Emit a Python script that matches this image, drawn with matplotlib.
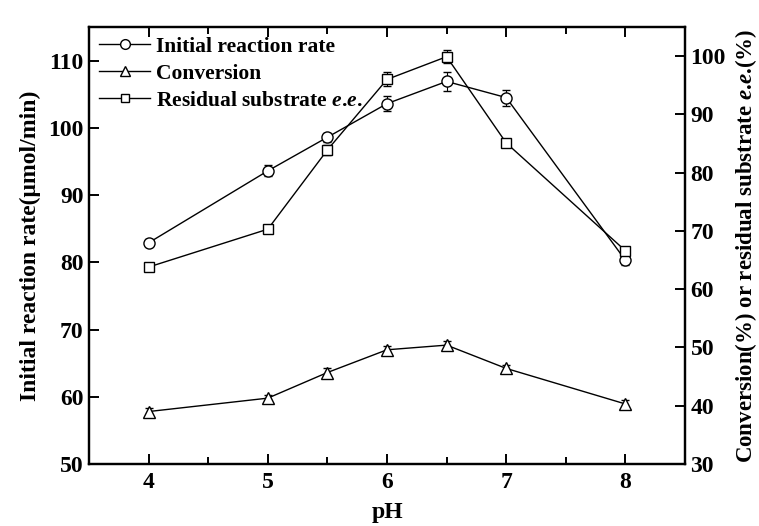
import matplotlib as mpl
mpl.use('Agg')
import matplotlib.pyplot as plt
from matplotlib.lines import Line2D
from matplotlib.ticker import MultipleLocator

plt.rcParams['font.family'] = ['Liberation Serif', 'DejaVu Serif']
plt.rcParams['font.weight'] = 'bold'
plt.rcParams['mathtext.fontset'] = 'custom'
plt.rcParams['mathtext.it'] = 'Liberation Serif:bold:italic'
plt.rcParams['mathtext.rm'] = 'Liberation Serif:bold'
plt.rcParams['mathtext.bf'] = 'Liberation Serif:bold'

# data
ph = [4, 5, 5.5, 6, 6.5, 7, 8]
rate = [82.9, 93.6, 98.6, 103.6, 106.9, 104.5, 80.3]
rate_err = [0.5, 0.8, 0.7, 1.1, 1.4, 1.2, 0.7]
conversion = [39.0, 41.3, 45.7, 49.6, 50.4, 46.4, 40.3]
conversion_err = [0.6, 0.6, 0.7, 0.6, 0.7, 0.6, 0.6]
ee = [63.8, 70.3, 83.9, 96.0, 99.9, 85.1, 66.6]
ee_err = [0.0, 0.6, 0.8, 1.2, 1.1, 0.0, 0.6]

fig = plt.figure(figsize=(7.59, 5.26), dpi=100)
ax = fig.add_axes([0.1173, 0.1179, 0.7852, 0.8308])
ax2 = ax.twinx()

style = dict(color='black', lw=1.0, mfc='white', mec='black', mew=1.0,
             ecolor='black', elinewidth=0.8, capsize=3, capthick=0.8)
ax.errorbar(ph, rate, yerr=rate_err, marker='o', ms=8, **style)
ax2.errorbar(ph, conversion, yerr=conversion_err, marker='^', ms=8.5, **style)
ax2.errorbar(ph, ee, yerr=ee_err, marker='s', ms=7, **style)

ax.set_xlim(3.5, 8.5)
ax.set_ylim(50, 115)
ax2.set_ylim(30, 105)
ax.xaxis.set_major_locator(MultipleLocator(1))
ax.xaxis.set_minor_locator(MultipleLocator(0.5))
ax.yaxis.set_major_locator(MultipleLocator(10))
ax2.yaxis.set_major_locator(MultipleLocator(10))

for a in (ax, ax2):
    for s in a.spines.values():
        s.set_linewidth(1.6)
ax.tick_params(axis='x', which='both', direction='in', top=True, labelsize=17, width=1.4)
ax.tick_params(axis='x', which='major', length=7, pad=6)
ax.tick_params(axis='x', which='minor', length=5)
ax.tick_params(axis='y', direction='in', length=7, width=1.4, labelsize=17, right=False, pad=4)
ax2.tick_params(axis='y', direction='in', length=7, width=1.4, labelsize=17, pad=4)

ax.set_xlabel('pH', fontsize=17, fontweight='bold', labelpad=6)
ax.set_ylabel('Initial reaction rate(\u03bcmol/min)', fontsize=17, fontweight='bold', labelpad=5)
ax2.set_ylabel(r'Conversion(%) or residual substrate $\mathit{e}$.$\mathit{e}$.(%)', fontsize=16.5,
               fontweight='bold', labelpad=5)

handles = [Line2D([], [], color='black', lw=1.0, marker=m, ms=s, mfc='white', mec='black')
           for m, s in (('o', 7), ('^', 7), ('s', 6))]
leg = ax2.legend(handles, ['Initial reaction rate', 'Conversion',
                           r'Residual substrate $\mathit{e}$.$\mathit{e}$.'],
                 loc='upper left', frameon=False, fontsize=15.5,
                 handlelength=2.4, handletextpad=0.25, labelspacing=0.32,
                 borderaxespad=0.35, borderpad=0.1)

fig.savefig('out.png', dpi=100)
